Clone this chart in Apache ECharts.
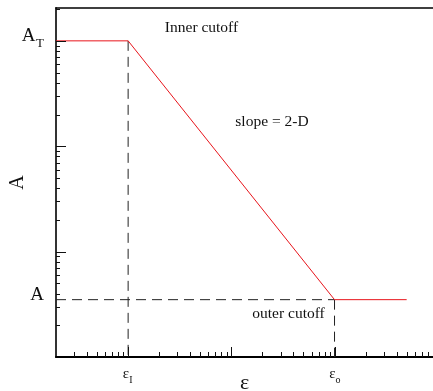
<!DOCTYPE html>
<html>
<head>
<meta charset="utf-8">
<script src="https://cdn.jsdelivr.net/npm/echarts@6/dist/echarts.min.js"></script>
<style>
  html, body { margin: 0; padding: 0; background: #fff; }
  #chart { width: 433px; height: 391px; }
</style>
</head>
<body>
<div id="chart"></div>
<script>
// log-log axis ranges
const xRange = [2, 9000];
const yRange = [1, 2050];

// the model curve: plateau at A_T, power-law fall, plateau at A
const curveX = [2, 10, 1000, 5000];
const curveY = [1000, 1000, 3.5, 3.5];

// cutoff guide positions
const epsInner = 10;
const epsOuter = 1000;
const levelTop = 1000;
const levelLow = 3.5;

// ticks
const xMajorTicks = [10, 100, 1000];
const xMinorTicks = [3, 4, 5, 6, 7, 8, 9,
  20, 30, 40, 50, 60, 70, 80, 90,
  200, 300, 400, 500, 600, 700, 800, 900,
  2000, 3000, 4000, 5000, 6000, 7000, 8000, 9000];
const yMajorTicks = [10, 100, 1000];
const yMinorTicks = [2, 3, 4, 5, 6, 7, 8, 9,
  20, 30, 40, 50, 60, 70, 80, 90,
  200, 300, 400, 500, 600, 700, 800, 900, 2000];

// tick labels (main glyph + subscript)
const xLabelValues = [10, 1000];
const xLabelMain = ['ε', 'ε'];
const xLabelSub = ['I', 'o'];
const yLabelValues = [1000, 3.5];
const yLabelMain = ['A', 'A'];
const yLabelSub = ['T', ''];

// free annotations
const notes = ['Inner cutoff', 'slope = 2-D', 'outer cutoff'];

const SERIF = '"Liberation Serif", "Times New Roman", serif';

const chart = echarts.init(document.getElementById('chart'));

function xTick(len) {
  return function (params, api) {
    const p = api.coord([api.value(0), yRange[0]]);
    const x = Math.round(p[0]) + 0.5;
    return {
      type: 'line',
      shape: { x1: x, y1: p[1], x2: x, y2: p[1] - len },
      style: { stroke: '#111', lineWidth: 1 }
    };
  };
}

function yTick(len) {
  return function (params, api) {
    const p = api.coord([xRange[0], api.value(1)]);
    const y = Math.round(p[1]) + 0.5;
    return {
      type: 'line',
      shape: { x1: p[0], y1: y, x2: p[0] + len, y2: y },
      style: { stroke: '#111', lineWidth: 1 }
    };
  };
}

function xLabel(params, api) {
  const i = api.value(2);
  const p = api.coord([api.value(0), yRange[0]]);
  return {
    type: 'group',
    children: [
      { type: 'text', style: { text: xLabelMain[i], x: p[0] + 1, y: p[1] + 17.5,
        align: 'right', verticalAlign: 'middle', font: '15px ' + SERIF, fill: '#111' } },
      { type: 'text', style: { text: xLabelSub[i], x: p[0] + 1, y: p[1] + 23,
        align: 'left', verticalAlign: 'middle', font: '10px ' + SERIF, fill: '#111' } }
    ]
  };
}

function yLabel(params, api) {
  const i = api.value(2);
  const p = api.coord([xRange[0], api.value(1)]);
  const hasSub = yLabelSub[i] !== '';
  const right = p[0] - 12;
  const children = [
    { type: 'text', style: { text: yLabelMain[i], x: hasSub ? right - 8.5 : right, y: p[1] - 4.5,
      align: 'right', verticalAlign: 'middle', font: '19px ' + SERIF, fill: '#111' } }
  ];
  if (hasSub) {
    children.push({ type: 'text', style: { text: yLabelSub[i], x: right, y: p[1] + 3,
      align: 'right', verticalAlign: 'middle', font: '13px ' + SERIF, fill: '#111' } });
  }
  return { type: 'group', children: children };
}

const dashed = { color: '#222', width: 1, type: [10, 6] };

const option = {
  animation: false,
  backgroundColor: '#fff',
  grid: { left: 56, right: 0, top: 8, bottom: 34, containLabel: false, outerBoundsMode: 'none' },
  xAxis: [{
    type: 'log',
    min: xRange[0],
    max: xRange[1],
    name: 'ε',
    nameLocation: 'middle',
    nameGap: 15,
    nameTextStyle: { fontFamily: SERIF, fontSize: 22, color: '#111' },
    axisLine: { onZero: false, lineStyle: { color: '#000', width: 2 } },
    axisTick: { show: false },
    axisLabel: { show: false },
    splitLine: { show: false }
  }, {
    type: 'log',
    position: 'top',
    min: xRange[0],
    max: xRange[1],
    axisLine: { onZero: false, lineStyle: { color: '#000', width: 1.5 } },
    axisTick: { show: false },
    axisLabel: { show: false },
    splitLine: { show: false }
  }],
  yAxis: {
    type: 'log',
    min: yRange[0],
    max: yRange[1],
    name: 'A',
    nameLocation: 'middle',
    nameRotate: 90,
    nameGap: 28,
    nameTextStyle: { fontFamily: SERIF, fontSize: 20, color: '#111' },
    axisLine: { onZero: false, lineStyle: { color: '#333', width: 2 } },
    axisTick: { show: false },
    axisLabel: { show: false },
    splitLine: { show: false }
  },
  series: [
    { type: 'line', symbol: 'none', silent: true, lineStyle: dashed,
      data: [[epsInner, levelTop], [epsInner, yRange[0]]] },
    { type: 'line', symbol: 'none', silent: true, lineStyle: dashed,
      data: [[xRange[0], levelLow], [epsOuter, levelLow]] },
    { type: 'line', symbol: 'none', silent: true, lineStyle: dashed,
      data: [[epsOuter, levelLow], [epsOuter, yRange[0]]] },
    { type: 'line', symbol: 'none', silent: true, z: 5,
      lineStyle: { color: '#e8141b', width: 1 },
      data: curveX.map((x, i) => [x, curveY[i]]) },
    { type: 'custom', silent: true, z: 6, renderItem: xTick(10),
      data: xMajorTicks.map(v => [v, yRange[0]]) },
    { type: 'custom', silent: true, z: 6, renderItem: xTick(5),
      data: xMinorTicks.map(v => [v, yRange[0]]) },
    { type: 'custom', silent: true, z: 6, renderItem: yTick(10),
      data: yMajorTicks.map(v => [xRange[0], v]) },
    { type: 'custom', silent: true, z: 6, renderItem: yTick(4),
      data: yMinorTicks.map(v => [xRange[0], v]) },
    { type: 'custom', silent: true, z: 6, renderItem: xLabel,
      data: xLabelValues.map((v, i) => [v, yRange[0], i]) },
    { type: 'custom', silent: true, z: 6, renderItem: yLabel,
      data: yLabelValues.map((v, i) => [xRange[0], v, i]) }
  ],
  graphic: [
    { type: 'text', x: 201.5, y: 27.5, silent: true,
      style: { text: notes[0], font: '15.5px ' + SERIF, fill: '#111', align: 'center', verticalAlign: 'middle' } },
    { type: 'text', x: 272, y: 122, silent: true,
      style: { text: notes[1], font: '15.5px ' + SERIF, fill: '#111', align: 'center', verticalAlign: 'middle' } },
    { type: 'text', x: 288.5, y: 314, silent: true,
      style: { text: notes[2], font: '15.5px ' + SERIF, fill: '#111', align: 'center', verticalAlign: 'middle' } }
  ]
};

chart.setOption(option);
window.addEventListener('resize', () => chart.resize());
</script>
</body>
</html>
